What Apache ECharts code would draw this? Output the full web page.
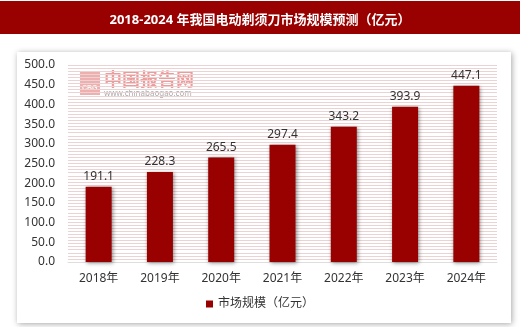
<!DOCTYPE html>
<html>
<head>
<meta charset="utf-8">
<script src="https://cdn.jsdelivr.net/npm/echarts@6/dist/echarts.min.js"></script>
<style>
  html, body { margin: 0; padding: 0; background: #fff; }
  #chart { width: 520px; height: 327px; }
</style>
</head>
<body>
<div id="chart"></div>
<script>
// 2018-2024 electric shaver market size forecast (100 million yuan)
const years = ['2018年', '2019年', '2020年', '2021年', '2022年', '2023年', '2024年'];
const marketSize = [191.1, 228.3, 265.5, 297.4, 343.2, 393.9, 447.1];
const seriesName = '市场规模（亿元）';
const titleText = '2018-2024 年我国电动剃须刀市场规模预测（亿元）';

const FONT = '"Noto Sans", "Noto Sans CJK SC", sans-serif';
const RED = '#990000';

const chart = echarts.init(document.getElementById('chart'), null, { renderer: 'canvas' });

chart.setOption({
  animation: false,
  backgroundColor: '#ffffff',
  title: {
    text: titleText,
    left: 'center',
    top: 9,
    textStyle: { color: '#ffffff', fontSize: 13, fontWeight: 'bold', fontFamily: FONT }
  },
  graphic: [
    // title banner
    { type: 'rect', z: -10, shape: { x: 0, y: 1, width: 520, height: 33 }, style: { fill: RED } },
    // framed panel
    {
      type: 'rect', z: -10,
      shape: { x: 17, y: 52, width: 494, height: 271 },
      style: { fill: '#ffffff', shadowBlur: 6, shadowColor: 'rgba(0,0,0,0.35)', shadowOffsetX: 1, shadowOffsetY: 1 }
    },
    // source watermark
    {
      type: 'group', left: 80, top: 70, z: 5,
      children: [
        { type: 'rect', shape: { x: 0, y: 0, width: 20, height: 24 }, style: { fill: 'rgba(225,110,110,0.55)' } },
        { type: 'text', x: 2, y: 14, style: { text: 'CBG', fill: 'rgba(255,255,255,0.9)', font: 'bold 7px sans-serif' } },
        { type: 'text', x: 24, y: -1, style: { text: '中国报告网', fill: 'rgba(225,90,90,0.6)', font: 'bold 18px "Noto Sans CJK SC"' } },
        { type: 'text', x: 24, y: 19, style: { text: 'www.chinabaogao.com', fill: 'rgba(110,110,110,0.6)', font: '8px "Noto Sans", sans-serif' } }
      ]
    }
  ],
  legend: {
    data: [seriesName],
    bottom: 12,
    left: 'center',
    itemWidth: 7,
    itemHeight: 7,
    itemGap: 4,
    icon: 'rect',
    textStyle: { color: '#333', fontSize: 12, fontFamily: FONT }
  },
  grid: { left: 68, right: 23, top: 65, bottom: 65, containLabel: false },
  xAxis: {
    type: 'category',
    data: years,
    axisLine: { show: true, lineStyle: { color: '#dedede' } },
    axisTick: { show: false },
    axisLabel: { color: '#333', fontSize: 12, fontFamily: FONT, margin: 11 }
  },
  yAxis: [
    {
      type: 'value',
      min: 0, max: 500, interval: 50,
      axisLine: { show: false },
      axisTick: { show: false },
      splitLine: { show: false },
      axisLabel: { color: '#333', fontSize: 12, fontFamily: FONT, margin: 13, formatter: v => v.toFixed(1) }
    },
    {
      // fine horizontal hatching behind the bars
      type: 'value',
      min: 0, max: 500, interval: 500 / 64,
      position: 'left',
      axisLine: { show: false },
      axisTick: { show: false },
      axisLabel: { show: false },
      splitLine: { show: true, lineStyle: { color: '#ebd3d3', width: 1.2 } }
    }
  ],
  series: [{
    name: seriesName,
    type: 'bar',
    yAxisIndex: 0,
    data: marketSize,
    barWidth: 26,
    itemStyle: {
      color: RED,
      shadowBlur: 4,
      shadowColor: 'rgba(0,0,0,0.45)',
      shadowOffsetX: 1,
      shadowOffsetY: 1
    },
    label: {
      show: true,
      position: 'top',
      distance: 4,
      color: '#333',
      fontSize: 12,
      fontFamily: FONT,
      formatter: p => p.value.toFixed(1)
    }
  }]
});
</script>
</body>
</html>
